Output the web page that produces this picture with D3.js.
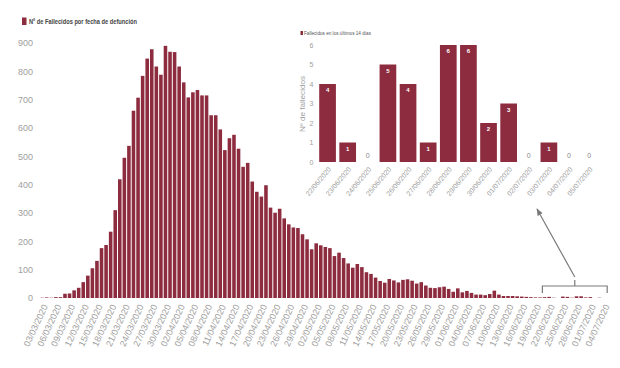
<!DOCTYPE html>
<html lang="es">
<head>
<meta charset="UTF-8">
<title>Fallecidos por fecha de defuncion</title>
<script src="https://cdn.jsdelivr.net/npm/d3@7"></script>
<style>
  body { margin: 0; background: #fff; }
  svg { display: block; font-family: "Liberation Sans", "DejaVu Sans", sans-serif; }
</style>
</head>
<body>
<svg id="chart" width="620" height="368"></svg>
<script>
// daily deaths by date of death, 03/03/2020 .. 04/07/2020
var startDate = "2020-03-03";
var deaths = [
  1, 2, 1, 3, 3, 15, 16, 27, 36, 56, 79, 105, 131, 176, 187, 234,
  310, 419, 495, 537, 661, 707, 784, 845, 878, 817, 788, 890, 869, 868, 817, 761,
  708, 726, 734, 715, 715, 645, 645, 595, 522, 564, 576, 527, 463, 477, 411, 375,
  358, 398, 319, 301, 315, 281, 260, 249, 247, 225, 207, 172, 193, 186, 180, 176,
  148, 160, 141, 122, 107, 120, 109, 91, 85, 72, 60, 54, 67, 62, 55, 64,
  66, 61, 51, 56, 44, 36, 35, 38, 40, 32, 22, 34, 20, 25, 18, 12,
  12, 10, 14, 26, 12, 7, 7, 7, 6, 5, 4, 3, 2, 2, 3, 4,
  1, 0, 5, 4, 1, 6, 6, 2, 3, 0, 1, 0
];
var yTicks = [0, 100, 200, 300, 400, 500, 600, 700, 800, 900];

// inset: last 14 days
var lastDays = ["22/06/2020", "23/06/2020", "24/06/2020", "25/06/2020", "26/06/2020", "27/06/2020", "28/06/2020",
                "29/06/2020", "30/06/2020", "01/07/2020", "02/07/2020", "03/07/2020", "04/07/2020", "05/07/2020"];
var lastValues = [4, 1, 0, 5, 4, 1, 6, 6, 2, 3, 0, 1, 0, 0];
var insetTicks = [0, 1, 2, 3, 4, 5, 6];

var barColor = "#8d2c3f";
var tickColor = "#a0a0a0";

var svg = d3.select("#chart");
var fmt = d3.timeFormat("%d/%m/%Y");
var day0 = d3.timeParse("%Y-%m-%d")(startDate);
var dates = deaths.map(function(d, i) { return fmt(d3.timeDay.offset(day0, i)); });

// ---- main chart
var x = d3.scaleBand().domain(dates).range([39.9, 606.2]).paddingInner(0.22).paddingOuter(0.1);
var y = d3.scaleLinear().domain([0, 900]).range([298, 43]);

svg.append("g")
   .selectAll("rect")
   .data(deaths)
   .enter().append("rect")
   .attr("x", function(d, i) { return x(dates[i]); })
   .attr("y", function(d) { return y(d); })
   .attr("width", x.bandwidth())
   .attr("height", function(d) { return y(0) - y(d); })
   .attr("fill", barColor);

var yAxis = svg.append("g")
   .attr("transform", "translate(33,0)")
   .call(d3.axisLeft(y).tickValues(yTicks).tickSize(0).tickPadding(0));
yAxis.select(".domain").remove();
yAxis.selectAll("text")
     .attr("fill", tickColor)
     .attr("font-size", "9px")
     .attr("font-family", "Liberation Sans Narrow, Liberation Sans, sans-serif");

var xAxis = svg.append("g")
   .attr("transform", "translate(0,298)")
   .call(d3.axisBottom(x)
           .tickValues(dates.filter(function(d, i) { return i % 3 === 0; }))
           .tickSize(0));
xAxis.select(".domain").remove();
xAxis.selectAll("text")
     .attr("fill", tickColor)
     .attr("font-size", "9px")
     .attr("text-anchor", "end")
     .attr("dy", "0.35em")
     .attr("transform", "translate(3,7) rotate(-65)")
     .attr("x", 0).attr("y", 0);

// legend
svg.append("rect").attr("x", 22).attr("y", 17.5).attr("width", 4.5).attr("height", 7.5).attr("fill", barColor);
svg.append("text").attr("x", 29).attr("y", 24)
   .attr("font-size", "8px").attr("font-weight", "bold").attr("fill", "#444")
   .attr("textLength", 108).attr("lengthAdjust", "spacingAndGlyphs")
   .text("Nº de Fallecidos por fecha de defunción");

// ---- inset
var xi = d3.scaleBand().domain(lastDays).range([317.6, 599.1]).paddingInner(0.17).paddingOuter(0.08);
var yi = d3.scaleLinear().domain([0, 6]).range([162, 45]);

var ib = svg.append("g");
ib.selectAll("rect")
  .data(lastValues)
  .enter().append("rect")
  .attr("x", function(d, i) { return xi(lastDays[i]); })
  .attr("y", function(d) { return yi(d); })
  .attr("width", xi.bandwidth())
  .attr("height", function(d) { return yi(0) - yi(d); })
  .attr("fill", barColor);

ib.selectAll("text.val")
  .data(lastValues)
  .enter().append("text")
  .attr("class", "val")
  .attr("x", function(d, i) { return xi(lastDays[i]) + xi.bandwidth() / 2; })
  .attr("y", function(d) { return d > 0 ? yi(d) + 8 : yi(0) - 4; })
  .attr("text-anchor", "middle")
  .attr("font-size", function(d) { return d > 0 ? "6px" : "7px"; })
  .attr("font-weight", function(d) { return d > 0 ? "bold" : "normal"; })
  .attr("fill", function(d) { return d > 0 ? "#fff" : "#888"; })
  .text(function(d) { return d; });

var yiAxis = svg.append("g")
   .attr("transform", "translate(311.5,0)")
   .call(d3.axisLeft(yi).tickValues(insetTicks).tickFormat(d3.format("d")).tickSize(0).tickPadding(0));
yiAxis.select(".domain").remove();
yiAxis.selectAll("text").attr("fill", tickColor).attr("font-size", "7px").attr("text-anchor", "middle");

var xiAxis = svg.append("g")
   .attr("transform", "translate(0,162)")
   .call(d3.axisBottom(xi).tickSize(0));
xiAxis.select(".domain").remove();
xiAxis.selectAll("text")
      .attr("fill", tickColor)
      .attr("font-size", "7px")
      .attr("text-anchor", "end")
      .attr("dy", "0.35em")
      .attr("transform", "translate(2,6) rotate(-50)")
      .attr("x", 0).attr("y", 0);

svg.append("text")
   .attr("transform", "translate(305,104) rotate(-90)")
   .attr("text-anchor", "middle")
   .attr("font-size", "6.5px").attr("fill", tickColor)
   .attr("textLength", 56).attr("lengthAdjust", "spacingAndGlyphs")
   .text("Nº de fallecidos");

svg.append("rect").attr("x", 300.5).attr("y", 31).attr("width", 2.5).attr("height", 4).attr("fill", barColor);
svg.append("text").attr("x", 304).attr("y", 35)
   .attr("font-size", "6px").attr("fill", "#555")
   .attr("textLength", 67).attr("lengthAdjust", "spacingAndGlyphs")
   .text("Fallecidos en los últimos 14 días");

// ---- bracket + arrow linking tail to inset
var lineCol = "#7a7a7a";
svg.append("defs").append("marker")
   .attr("id", "head").attr("viewBox", "0 0 10 10")
   .attr("refX", 9).attr("refY", 5)
   .attr("markerWidth", 6).attr("markerHeight", 6)
   .attr("orient", "auto")
   .append("path").attr("d", "M0,1 L10,5 L0,9 Z").attr("fill", lineCol);

var bx0 = x(dates[111]) - 5, bx1 = x(dates[123]) + 5, bmid = (bx0 + bx1) / 2;
svg.append("path")
   .attr("d", "M" + bx0 + ",293 L" + bx0 + ",286 L" + bx1 + ",286 L" + bx1 + ",293 M" + bmid + ",286 L" + bmid + ",280")
   .attr("fill", "none").attr("stroke", lineCol).attr("stroke-width", 1.2);
svg.append("line")
   .attr("x1", bmid).attr("y1", 277).attr("x2", 537).attr("y2", 209)
   .attr("stroke", lineCol).attr("stroke-width", 1.2)
   .attr("marker-end", "url(#head)");
</script>
</body>
</html>
